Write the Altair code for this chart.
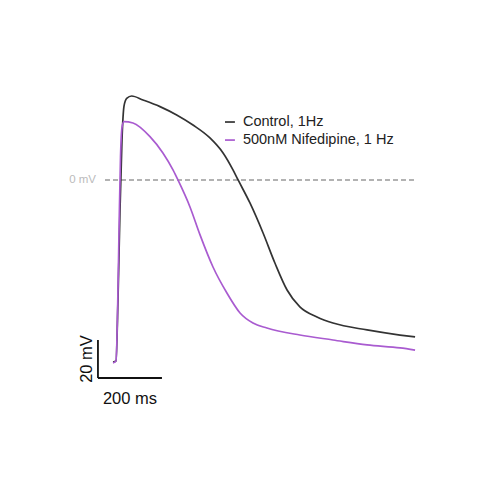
import altair as alt
import pandas as pd

# Control, 1Hz trace (time in ms, membrane potential in mV)
ctrl_t = [0, 9.4, 15.6, 21.9, 28.1, 34.4, 42.8, 58.4, 93.8, 146.9, 199, 250, 303, 344, 375, 391,
          428, 469, 506, 544, 584, 637.5, 687.5, 794, 897, 944]
ctrl_v = [-95.8, -95.3, -63.2, -15.8, 21.1, 38.9, 43.0, 44.2, 42.1, 38.6, 34.2, 28.9, 22.1, 14.2,
          5.3, 0.0, -12.1, -27.9, -43.7, -57.9, -66.8, -72.1, -75.3, -78.9, -81.6, -82.6]

# 500nM Nifedipine, 1 Hz trace
nif_t = [0, 9.4, 15.6, 19.5, 23.5, 28.1, 34.0, 62.5, 115.6, 156, 187.5, 203, 240.6, 272, 312.5,
         356, 397, 437.5, 481, 584, 687.5, 794, 897, 944]
nif_v = [-96.3, -95.3, -57.9, -20.5, 12.0, 27.5, 30.7, 30.0, 22.8, 14.2, 5.3, 0.0, -14.2, -28.9,
         -45.8, -59.5, -70.0, -75.3, -77.9, -81.6, -84.2, -86.8, -88.4, -89.5]

series_names = ["Control, 1Hz", "500nM Nifedipine, 1 Hz"]
series_colors = ["#333333", "#a95bd0"]

zero_line_t = [-25, 944]
bar_origin = (-47, -104.2)
bar_ms = 200
bar_mv = 20

xs = alt.Scale(domain=[-328.1, 1184.4], nice=False, zero=False)
ys = alt.Scale(domain=[-164.2, 90.5], nice=False, zero=False)

rows = []
for name, ts, vs in [(series_names[0], ctrl_t, ctrl_v), (series_names[1], nif_t, nif_v)]:
    for i, (t, v) in enumerate(zip(ts, vs)):
        rows.append({"series": name, "t": t, "v": v, "i": i})
traces = pd.DataFrame(rows)

X = lambda: alt.X("t:Q", scale=xs, axis=None)
Y = lambda: alt.Y("v:Q", scale=ys, axis=None)
color_enc = alt.Color("series:N", scale=alt.Scale(domain=series_names, range=series_colors), legend=None)

lines = alt.Chart(traces).mark_line(strokeWidth=1.7, interpolate="monotone").encode(
    x=X(), y=Y(), order="i:Q", color=color_enc,
)

zero_df = pd.DataFrame({"t": [zero_line_t[0]], "t2": [zero_line_t[1]], "v": [0]})
zero = alt.Chart(zero_df).mark_rule(color="#999999", strokeWidth=1.5, strokeDash=[5, 3]).encode(
    x=X(), x2="t2:Q", y=Y()
)
zero_lbl = alt.Chart(pd.DataFrame({"t": [-53], "v": [0], "txt": ["0 mV"]})).mark_text(
    align="right", baseline="middle", fontSize=11.5, color="#bbbbbb", font="Liberation Sans"
).encode(x=X(), y=Y(), text="txt:N")

# legend
leg_df = pd.DataFrame({
    "t": [350, 350], "t2": [381, 381], "v": [30.5, 21.0],
    "tt": [406, 406], "series": series_names,
})
leg_lines = alt.Chart(leg_df).mark_rule(strokeWidth=1.7).encode(
    x=X(), x2="t2:Q", y=Y(), color=color_enc,
)
leg_text = alt.Chart(leg_df).mark_text(
    align="left", baseline="middle", fontSize=14.5, color="#222222", font="Liberation Sans"
).encode(x=alt.X("tt:Q", scale=xs, axis=None), y=Y(), text="series:N")

# scale bar
bx, by = bar_origin
hbar = alt.Chart(pd.DataFrame({"t": [bx], "t2": [bx + bar_ms], "v": [by]})).mark_rule(
    color="#111111", strokeWidth=1.8).encode(x=X(), x2="t2:Q", y=Y())
vbar = alt.Chart(pd.DataFrame({"t": [bx], "v": [by], "v2": [by + bar_mv]})).mark_rule(
    color="#111111", strokeWidth=1.8).encode(x=X(), y=Y(), y2="v2:Q")
hlbl = alt.Chart(pd.DataFrame({"t": [bx + bar_ms / 2], "v": [by - 11.3], "txt": [f"{bar_ms} ms"]})).mark_text(
    align="center", baseline="middle", fontSize=16.5, color="#111111", font="Liberation Sans"
).encode(x=X(), y=Y(), text="txt:N")
vlbl = alt.Chart(pd.DataFrame({"t": [bx - 34], "v": [by + bar_mv / 2], "txt": [f"{bar_mv} mV"]})).mark_text(
    align="center", baseline="middle", fontSize=16.5, color="#111111", angle=270, font="Liberation Sans"
).encode(x=X(), y=Y(), text="txt:N")

chart = alt.layer(zero, zero_lbl, lines, leg_lines, leg_text, hbar, vbar, hlbl, vlbl).properties(
    width=484, height=484, padding=0, autosize="none", background="white"
).configure_view(stroke=None)

chart.save("out.html", embed_options={"renderer": "svg", "actions": False})
